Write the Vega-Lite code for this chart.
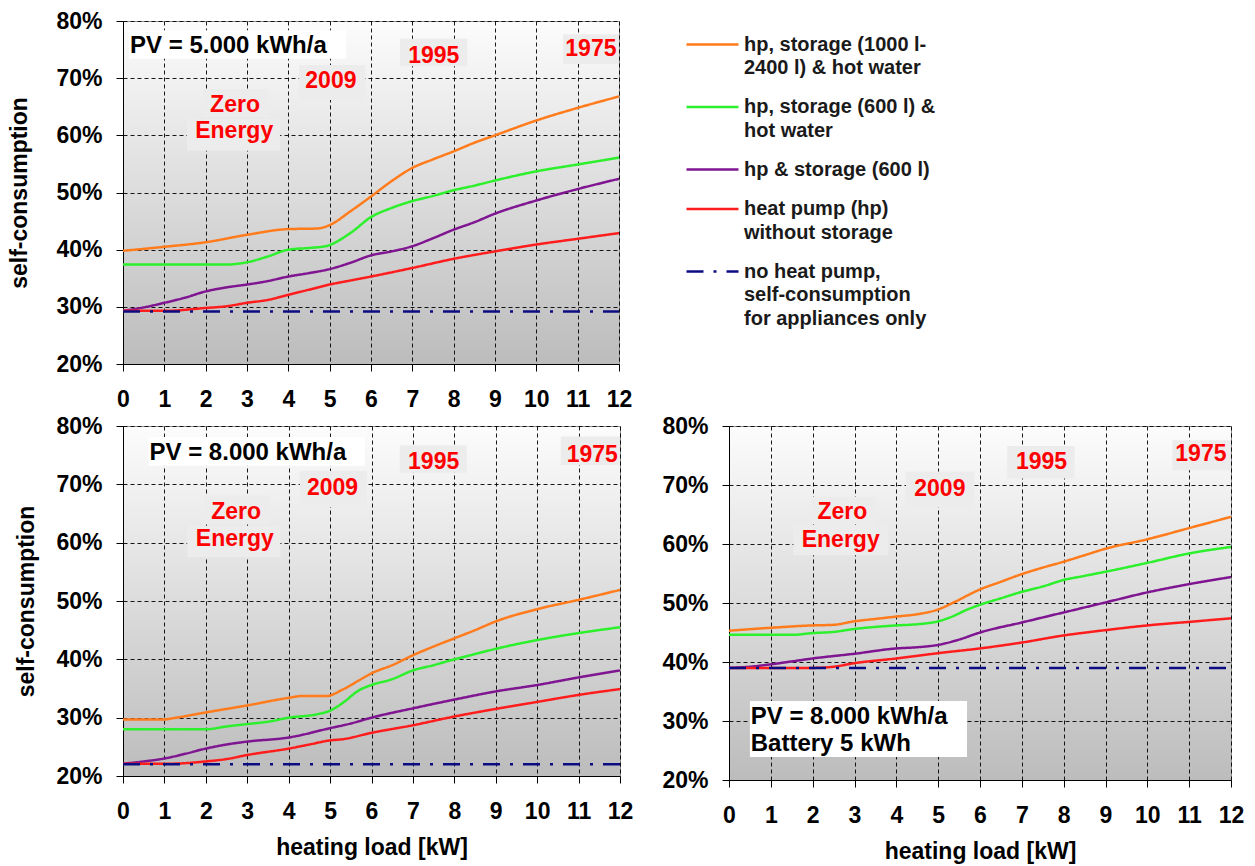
{
"$schema":"https://vega.github.io/schema/vega-lite/v6.json",
"padding":{"left":8,"top":9,"right":4,"bottom":4},
"config":{
 "font":"Liberation Sans",
 "view":{"fill":{"gradient":"linear","x1":0,"y1":0,"x2":0,"y2":1,"stops":[{"offset":0,"color":"#fcfcfc"},{"offset":1,"color":"#bcbcbc"}]},"stroke":"#8f8f8f","strokeWidth":1},
 "axis":{"labelFont":"Liberation Sans","labelFontSize":23,"labelFontWeight":"bold","labelColor":"#000000","titleFont":"Liberation Sans","titleFontSize":23,"titleFontWeight":"bold","titleColor":"#000000","domainColor":"#000000","domainWidth":1,"tickColor":"#000000","tickSize":7,"tickWidth":1,"gridColor":"#000000","gridDash":[4,3],"gridWidth":1,"gridOpacity":0.9,"labelOverlap":false},
 "axisX":{"labelPadding":17,"titlePadding":13,"labelFlush":false},
 "axisY":{"labelPadding":14,"titlePadding":22},
 "legend":{"labelFont":"Liberation Sans"}
},
"datasets":{
"curves":[
{"panel":"p1","series":"hp, storage (1000 l-2400 l) & hot water","x":0,"y":39.8},
{"panel":"p1","series":"hp, storage (1000 l-2400 l) & hot water","x":1,"y":40.5},
{"panel":"p1","series":"hp, storage (1000 l-2400 l) & hot water","x":2,"y":41.3},
{"panel":"p1","series":"hp, storage (1000 l-2400 l) & hot water","x":3,"y":42.6},
{"panel":"p1","series":"hp, storage (1000 l-2400 l) & hot water","x":4,"y":43.6},
{"panel":"p1","series":"hp, storage (1000 l-2400 l) & hot water","x":4.7,"y":43.7},
{"panel":"p1","series":"hp, storage (1000 l-2400 l) & hot water","x":5,"y":44.3},
{"panel":"p1","series":"hp, storage (1000 l-2400 l) & hot water","x":5.5,"y":46.7},
{"panel":"p1","series":"hp, storage (1000 l-2400 l) & hot water","x":6,"y":49.3},
{"panel":"p1","series":"hp, storage (1000 l-2400 l) & hot water","x":6.5,"y":52},
{"panel":"p1","series":"hp, storage (1000 l-2400 l) & hot water","x":7,"y":54.3},
{"panel":"p1","series":"hp, storage (1000 l-2400 l) & hot water","x":7.5,"y":55.8},
{"panel":"p1","series":"hp, storage (1000 l-2400 l) & hot water","x":8,"y":57.2},
{"panel":"p1","series":"hp, storage (1000 l-2400 l) & hot water","x":8.5,"y":58.7},
{"panel":"p1","series":"hp, storage (1000 l-2400 l) & hot water","x":9,"y":60},
{"panel":"p1","series":"hp, storage (1000 l-2400 l) & hot water","x":10,"y":62.6},
{"panel":"p1","series":"hp, storage (1000 l-2400 l) & hot water","x":11,"y":64.8},
{"panel":"p1","series":"hp, storage (1000 l-2400 l) & hot water","x":12,"y":66.8},
{"panel":"p1","series":"hp, storage (600 l) & hot water","x":0,"y":37.4},
{"panel":"p1","series":"hp, storage (600 l) & hot water","x":1,"y":37.4},
{"panel":"p1","series":"hp, storage (600 l) & hot water","x":2,"y":37.4},
{"panel":"p1","series":"hp, storage (600 l) & hot water","x":2.5,"y":37.4},
{"panel":"p1","series":"hp, storage (600 l) & hot water","x":3,"y":37.8},
{"panel":"p1","series":"hp, storage (600 l) & hot water","x":3.5,"y":38.8},
{"panel":"p1","series":"hp, storage (600 l) & hot water","x":4,"y":40},
{"panel":"p1","series":"hp, storage (600 l) & hot water","x":4.5,"y":40.3},
{"panel":"p1","series":"hp, storage (600 l) & hot water","x":4.9,"y":40.6},
{"panel":"p1","series":"hp, storage (600 l) & hot water","x":5.5,"y":42.9},
{"panel":"p1","series":"hp, storage (600 l) & hot water","x":6,"y":45.7},
{"panel":"p1","series":"hp, storage (600 l) & hot water","x":6.5,"y":47.3},
{"panel":"p1","series":"hp, storage (600 l) & hot water","x":7,"y":48.5},
{"panel":"p1","series":"hp, storage (600 l) & hot water","x":7.5,"y":49.4},
{"panel":"p1","series":"hp, storage (600 l) & hot water","x":8,"y":50.4},
{"panel":"p1","series":"hp, storage (600 l) & hot water","x":8.5,"y":51.2},
{"panel":"p1","series":"hp, storage (600 l) & hot water","x":9,"y":52.1},
{"panel":"p1","series":"hp, storage (600 l) & hot water","x":10,"y":53.7},
{"panel":"p1","series":"hp, storage (600 l) & hot water","x":11,"y":54.9},
{"panel":"p1","series":"hp, storage (600 l) & hot water","x":12,"y":56.1},
{"panel":"p1","series":"hp & storage (600 l)","x":0,"y":29.3},
{"panel":"p1","series":"hp & storage (600 l)","x":0.5,"y":29.9},
{"panel":"p1","series":"hp & storage (600 l)","x":1,"y":30.7},
{"panel":"p1","series":"hp & storage (600 l)","x":1.5,"y":31.6},
{"panel":"p1","series":"hp & storage (600 l)","x":2,"y":32.7},
{"panel":"p1","series":"hp & storage (600 l)","x":2.5,"y":33.4},
{"panel":"p1","series":"hp & storage (600 l)","x":3,"y":33.9},
{"panel":"p1","series":"hp & storage (600 l)","x":3.5,"y":34.5},
{"panel":"p1","series":"hp & storage (600 l)","x":4,"y":35.3},
{"panel":"p1","series":"hp & storage (600 l)","x":4.5,"y":35.9},
{"panel":"p1","series":"hp & storage (600 l)","x":5,"y":36.6},
{"panel":"p1","series":"hp & storage (600 l)","x":5.5,"y":37.7},
{"panel":"p1","series":"hp & storage (600 l)","x":6,"y":39},
{"panel":"p1","series":"hp & storage (600 l)","x":6.5,"y":39.7},
{"panel":"p1","series":"hp & storage (600 l)","x":7,"y":40.6},
{"panel":"p1","series":"hp & storage (600 l)","x":7.5,"y":42},
{"panel":"p1","series":"hp & storage (600 l)","x":8,"y":43.5},
{"panel":"p1","series":"hp & storage (600 l)","x":8.5,"y":44.8},
{"panel":"p1","series":"hp & storage (600 l)","x":9,"y":46.3},
{"panel":"p1","series":"hp & storage (600 l)","x":10,"y":48.6},
{"panel":"p1","series":"hp & storage (600 l)","x":11,"y":50.6},
{"panel":"p1","series":"hp & storage (600 l)","x":12,"y":52.4},
{"panel":"p1","series":"heat pump (hp) without storage","x":0,"y":29.3},
{"panel":"p1","series":"heat pump (hp) without storage","x":1,"y":29.3},
{"panel":"p1","series":"heat pump (hp) without storage","x":2,"y":29.8},
{"panel":"p1","series":"heat pump (hp) without storage","x":2.5,"y":30.1},
{"panel":"p1","series":"heat pump (hp) without storage","x":3,"y":30.7},
{"panel":"p1","series":"heat pump (hp) without storage","x":3.5,"y":31.2},
{"panel":"p1","series":"heat pump (hp) without storage","x":4,"y":32.1},
{"panel":"p1","series":"heat pump (hp) without storage","x":4.5,"y":33},
{"panel":"p1","series":"heat pump (hp) without storage","x":5,"y":33.9},
{"panel":"p1","series":"heat pump (hp) without storage","x":5.5,"y":34.6},
{"panel":"p1","series":"heat pump (hp) without storage","x":6,"y":35.3},
{"panel":"p1","series":"heat pump (hp) without storage","x":7,"y":36.8},
{"panel":"p1","series":"heat pump (hp) without storage","x":8,"y":38.4},
{"panel":"p1","series":"heat pump (hp) without storage","x":9,"y":39.7},
{"panel":"p1","series":"heat pump (hp) without storage","x":10,"y":40.9},
{"panel":"p1","series":"heat pump (hp) without storage","x":11,"y":41.9},
{"panel":"p1","series":"heat pump (hp) without storage","x":12,"y":42.9},
{"panel":"p1","series":"no heat pump, self-consumption for appliances only","x":0,"y":29.2},
{"panel":"p1","series":"no heat pump, self-consumption for appliances only","x":12,"y":29.2},
{"panel":"p2","series":"hp, storage (1000 l-2400 l) & hot water","x":0,"y":29.7},
{"panel":"p2","series":"hp, storage (1000 l-2400 l) & hot water","x":1,"y":29.7},
{"panel":"p2","series":"hp, storage (1000 l-2400 l) & hot water","x":1.2,"y":29.9},
{"panel":"p2","series":"hp, storage (1000 l-2400 l) & hot water","x":2,"y":30.9},
{"panel":"p2","series":"hp, storage (1000 l-2400 l) & hot water","x":3,"y":32.1},
{"panel":"p2","series":"hp, storage (1000 l-2400 l) & hot water","x":4,"y":33.4},
{"panel":"p2","series":"hp, storage (1000 l-2400 l) & hot water","x":4.3,"y":33.7},
{"panel":"p2","series":"hp, storage (1000 l-2400 l) & hot water","x":4.9,"y":33.7},
{"panel":"p2","series":"hp, storage (1000 l-2400 l) & hot water","x":5.3,"y":34.8},
{"panel":"p2","series":"hp, storage (1000 l-2400 l) & hot water","x":5.7,"y":36.4},
{"panel":"p2","series":"hp, storage (1000 l-2400 l) & hot water","x":6,"y":37.6},
{"panel":"p2","series":"hp, storage (1000 l-2400 l) & hot water","x":6.5,"y":39},
{"panel":"p2","series":"hp, storage (1000 l-2400 l) & hot water","x":7,"y":40.7},
{"panel":"p2","series":"hp, storage (1000 l-2400 l) & hot water","x":7.5,"y":42.2},
{"panel":"p2","series":"hp, storage (1000 l-2400 l) & hot water","x":8,"y":43.6},
{"panel":"p2","series":"hp, storage (1000 l-2400 l) & hot water","x":8.5,"y":45},
{"panel":"p2","series":"hp, storage (1000 l-2400 l) & hot water","x":9,"y":46.5},
{"panel":"p2","series":"hp, storage (1000 l-2400 l) & hot water","x":10,"y":48.6},
{"panel":"p2","series":"hp, storage (1000 l-2400 l) & hot water","x":11,"y":50.2},
{"panel":"p2","series":"hp, storage (1000 l-2400 l) & hot water","x":12,"y":51.9},
{"panel":"p2","series":"hp, storage (600 l) & hot water","x":0,"y":28},
{"panel":"p2","series":"hp, storage (600 l) & hot water","x":1,"y":28},
{"panel":"p2","series":"hp, storage (600 l) & hot water","x":2,"y":28},
{"panel":"p2","series":"hp, storage (600 l) & hot water","x":2.5,"y":28.5},
{"panel":"p2","series":"hp, storage (600 l) & hot water","x":3,"y":28.9},
{"panel":"p2","series":"hp, storage (600 l) & hot water","x":3.5,"y":29.3},
{"panel":"p2","series":"hp, storage (600 l) & hot water","x":4,"y":30},
{"panel":"p2","series":"hp, storage (600 l) & hot water","x":4.7,"y":30.6},
{"panel":"p2","series":"hp, storage (600 l) & hot water","x":5,"y":31.2},
{"panel":"p2","series":"hp, storage (600 l) & hot water","x":5.3,"y":32.5},
{"panel":"p2","series":"hp, storage (600 l) & hot water","x":5.7,"y":34.7},
{"panel":"p2","series":"hp, storage (600 l) & hot water","x":6,"y":35.6},
{"panel":"p2","series":"hp, storage (600 l) & hot water","x":6.5,"y":36.6},
{"panel":"p2","series":"hp, storage (600 l) & hot water","x":7,"y":38.1},
{"panel":"p2","series":"hp, storage (600 l) & hot water","x":7.5,"y":39},
{"panel":"p2","series":"hp, storage (600 l) & hot water","x":8,"y":40},
{"panel":"p2","series":"hp, storage (600 l) & hot water","x":8.5,"y":40.9},
{"panel":"p2","series":"hp, storage (600 l) & hot water","x":9,"y":41.8},
{"panel":"p2","series":"hp, storage (600 l) & hot water","x":10,"y":43.3},
{"panel":"p2","series":"hp, storage (600 l) & hot water","x":11,"y":44.5},
{"panel":"p2","series":"hp, storage (600 l) & hot water","x":12,"y":45.5},
{"panel":"p2","series":"hp & storage (600 l)","x":0,"y":22.1},
{"panel":"p2","series":"hp & storage (600 l)","x":0.5,"y":22.5},
{"panel":"p2","series":"hp & storage (600 l)","x":1,"y":23},
{"panel":"p2","series":"hp & storage (600 l)","x":1.5,"y":23.8},
{"panel":"p2","series":"hp & storage (600 l)","x":2,"y":24.7},
{"panel":"p2","series":"hp & storage (600 l)","x":2.5,"y":25.4},
{"panel":"p2","series":"hp & storage (600 l)","x":3,"y":25.9},
{"panel":"p2","series":"hp & storage (600 l)","x":4,"y":26.6},
{"panel":"p2","series":"hp & storage (600 l)","x":5,"y":28.2},
{"panel":"p2","series":"hp & storage (600 l)","x":5.5,"y":29},
{"panel":"p2","series":"hp & storage (600 l)","x":6,"y":30},
{"panel":"p2","series":"hp & storage (600 l)","x":7,"y":31.6},
{"panel":"p2","series":"hp & storage (600 l)","x":8,"y":33.1},
{"panel":"p2","series":"hp & storage (600 l)","x":9,"y":34.5},
{"panel":"p2","series":"hp & storage (600 l)","x":10,"y":35.6},
{"panel":"p2","series":"hp & storage (600 l)","x":11,"y":36.9},
{"panel":"p2","series":"hp & storage (600 l)","x":12,"y":38.1},
{"panel":"p2","series":"heat pump (hp) without storage","x":0,"y":22.1},
{"panel":"p2","series":"heat pump (hp) without storage","x":1,"y":22.1},
{"panel":"p2","series":"heat pump (hp) without storage","x":1.5,"y":22.2},
{"panel":"p2","series":"heat pump (hp) without storage","x":2,"y":22.5},
{"panel":"p2","series":"heat pump (hp) without storage","x":2.5,"y":22.9},
{"panel":"p2","series":"heat pump (hp) without storage","x":3,"y":23.6},
{"panel":"p2","series":"heat pump (hp) without storage","x":4,"y":24.7},
{"panel":"p2","series":"heat pump (hp) without storage","x":4.5,"y":25.4},
{"panel":"p2","series":"heat pump (hp) without storage","x":5,"y":26.1},
{"panel":"p2","series":"heat pump (hp) without storage","x":5.3,"y":26.3},
{"panel":"p2","series":"heat pump (hp) without storage","x":6,"y":27.4},
{"panel":"p2","series":"heat pump (hp) without storage","x":7,"y":28.7},
{"panel":"p2","series":"heat pump (hp) without storage","x":8,"y":30.2},
{"panel":"p2","series":"heat pump (hp) without storage","x":9,"y":31.5},
{"panel":"p2","series":"heat pump (hp) without storage","x":10,"y":32.7},
{"panel":"p2","series":"heat pump (hp) without storage","x":11,"y":33.9},
{"panel":"p2","series":"heat pump (hp) without storage","x":12,"y":34.9},
{"panel":"p2","series":"no heat pump, self-consumption for appliances only","x":0,"y":22},
{"panel":"p2","series":"no heat pump, self-consumption for appliances only","x":12,"y":22},
{"panel":"p3","series":"hp, storage (1000 l-2400 l) & hot water","x":0,"y":45.3},
{"panel":"p3","series":"hp, storage (1000 l-2400 l) & hot water","x":1,"y":45.8},
{"panel":"p3","series":"hp, storage (1000 l-2400 l) & hot water","x":2,"y":46.2},
{"panel":"p3","series":"hp, storage (1000 l-2400 l) & hot water","x":2.5,"y":46.3},
{"panel":"p3","series":"hp, storage (1000 l-2400 l) & hot water","x":3,"y":46.9},
{"panel":"p3","series":"hp, storage (1000 l-2400 l) & hot water","x":3.5,"y":47.3},
{"panel":"p3","series":"hp, storage (1000 l-2400 l) & hot water","x":4,"y":47.7},
{"panel":"p3","series":"hp, storage (1000 l-2400 l) & hot water","x":4.5,"y":48.1},
{"panel":"p3","series":"hp, storage (1000 l-2400 l) & hot water","x":5,"y":48.9},
{"panel":"p3","series":"hp, storage (1000 l-2400 l) & hot water","x":5.4,"y":50.2},
{"panel":"p3","series":"hp, storage (1000 l-2400 l) & hot water","x":6,"y":52.3},
{"panel":"p3","series":"hp, storage (1000 l-2400 l) & hot water","x":6.5,"y":53.6},
{"panel":"p3","series":"hp, storage (1000 l-2400 l) & hot water","x":7,"y":54.9},
{"panel":"p3","series":"hp, storage (1000 l-2400 l) & hot water","x":7.5,"y":56},
{"panel":"p3","series":"hp, storage (1000 l-2400 l) & hot water","x":8,"y":57},
{"panel":"p3","series":"hp, storage (1000 l-2400 l) & hot water","x":8.5,"y":58.1},
{"panel":"p3","series":"hp, storage (1000 l-2400 l) & hot water","x":9,"y":59.2},
{"panel":"p3","series":"hp, storage (1000 l-2400 l) & hot water","x":10,"y":60.8},
{"panel":"p3","series":"hp, storage (1000 l-2400 l) & hot water","x":11,"y":62.7},
{"panel":"p3","series":"hp, storage (1000 l-2400 l) & hot water","x":12,"y":64.6},
{"panel":"p3","series":"hp, storage (600 l) & hot water","x":0,"y":44.6},
{"panel":"p3","series":"hp, storage (600 l) & hot water","x":1.5,"y":44.6},
{"panel":"p3","series":"hp, storage (600 l) & hot water","x":2,"y":44.9},
{"panel":"p3","series":"hp, storage (600 l) & hot water","x":2.5,"y":45.1},
{"panel":"p3","series":"hp, storage (600 l) & hot water","x":3,"y":45.6},
{"panel":"p3","series":"hp, storage (600 l) & hot water","x":4,"y":46.2},
{"panel":"p3","series":"hp, storage (600 l) & hot water","x":4.5,"y":46.4},
{"panel":"p3","series":"hp, storage (600 l) & hot water","x":5,"y":46.9},
{"panel":"p3","series":"hp, storage (600 l) & hot water","x":5.3,"y":47.6},
{"panel":"p3","series":"hp, storage (600 l) & hot water","x":5.7,"y":48.9},
{"panel":"p3","series":"hp, storage (600 l) & hot water","x":6,"y":49.7},
{"panel":"p3","series":"hp, storage (600 l) & hot water","x":6.5,"y":50.8},
{"panel":"p3","series":"hp, storage (600 l) & hot water","x":7,"y":51.9},
{"panel":"p3","series":"hp, storage (600 l) & hot water","x":7.5,"y":52.8},
{"panel":"p3","series":"hp, storage (600 l) & hot water","x":8,"y":53.9},
{"panel":"p3","series":"hp, storage (600 l) & hot water","x":8.5,"y":54.6},
{"panel":"p3","series":"hp, storage (600 l) & hot water","x":9,"y":55.3},
{"panel":"p3","series":"hp, storage (600 l) & hot water","x":10,"y":56.8},
{"panel":"p3","series":"hp, storage (600 l) & hot water","x":11,"y":58.4},
{"panel":"p3","series":"hp, storage (600 l) & hot water","x":12,"y":59.5},
{"panel":"p3","series":"hp & storage (600 l)","x":0,"y":39},
{"panel":"p3","series":"hp & storage (600 l)","x":0.5,"y":39.2},
{"panel":"p3","series":"hp & storage (600 l)","x":1,"y":39.6},
{"panel":"p3","series":"hp & storage (600 l)","x":1.5,"y":40.1},
{"panel":"p3","series":"hp & storage (600 l)","x":2,"y":40.6},
{"panel":"p3","series":"hp & storage (600 l)","x":3,"y":41.4},
{"panel":"p3","series":"hp & storage (600 l)","x":4,"y":42.3},
{"panel":"p3","series":"hp & storage (600 l)","x":4.5,"y":42.5},
{"panel":"p3","series":"hp & storage (600 l)","x":5,"y":42.9},
{"panel":"p3","series":"hp & storage (600 l)","x":5.5,"y":43.8},
{"panel":"p3","series":"hp & storage (600 l)","x":6,"y":45},
{"panel":"p3","series":"hp & storage (600 l)","x":7,"y":46.7},
{"panel":"p3","series":"hp & storage (600 l)","x":8,"y":48.4},
{"panel":"p3","series":"hp & storage (600 l)","x":9,"y":50.1},
{"panel":"p3","series":"hp & storage (600 l)","x":10,"y":51.8},
{"panel":"p3","series":"hp & storage (600 l)","x":11,"y":53.2},
{"panel":"p3","series":"hp & storage (600 l)","x":12,"y":54.4},
{"panel":"p3","series":"heat pump (hp) without storage","x":0,"y":39},
{"panel":"p3","series":"heat pump (hp) without storage","x":2,"y":39},
{"panel":"p3","series":"heat pump (hp) without storage","x":2.5,"y":39.2},
{"panel":"p3","series":"heat pump (hp) without storage","x":3,"y":39.8},
{"panel":"p3","series":"heat pump (hp) without storage","x":4,"y":40.6},
{"panel":"p3","series":"heat pump (hp) without storage","x":5,"y":41.5},
{"panel":"p3","series":"heat pump (hp) without storage","x":6,"y":42.3},
{"panel":"p3","series":"heat pump (hp) without storage","x":7,"y":43.3},
{"panel":"p3","series":"heat pump (hp) without storage","x":8,"y":44.5},
{"panel":"p3","series":"heat pump (hp) without storage","x":9,"y":45.4},
{"panel":"p3","series":"heat pump (hp) without storage","x":10,"y":46.2},
{"panel":"p3","series":"heat pump (hp) without storage","x":11,"y":46.8},
{"panel":"p3","series":"heat pump (hp) without storage","x":12,"y":47.4},
{"panel":"p3","series":"no heat pump, self-consumption for appliances only","x":0,"y":39},
{"panel":"p3","series":"no heat pump, self-consumption for appliances only","x":12,"y":39}
],
"boxes":[
{"panel":"p1","kind":"white","x":0.15,"x2":5.4,"y":73.4,"y2":78.4},
{"panel":"p1","kind":"gray","x":6.7,"x2":8.33,"y":72.1,"y2":76.9},
{"panel":"p1","kind":"gray","x":10.65,"x2":12,"y":72.5,"y2":77.7},
{"panel":"p1","kind":"gray","x":4.26,"x2":5.86,"y":66.2,"y2":72.3},
{"panel":"p1","kind":"gray","x":1.94,"x2":3.51,"y":63.2,"y2":68.1},
{"panel":"p1","kind":"gray","x":1.55,"x2":3.8,"y":57.3,"y2":62.9},
{"panel":"p2","kind":"white","x":0.62,"x2":5.84,"y":73.2,"y2":78.1},
{"panel":"p2","kind":"gray","x":6.68,"x2":8.3,"y":72,"y2":76.7},
{"panel":"p2","kind":"gray","x":10.57,"x2":12,"y":73.3,"y2":78.2},
{"panel":"p2","kind":"gray","x":4.27,"x2":5.89,"y":66.1,"y2":72.3},
{"panel":"p2","kind":"gray","x":1.95,"x2":3.53,"y":63.2,"y2":68.1},
{"panel":"p2","kind":"gray","x":1.55,"x2":3.8,"y":57.5,"y2":62.9},
{"panel":"p3","kind":"white","x":0.5,"x2":5.69,"y":23.9,"y2":33.4},
{"panel":"p3","kind":"gray","x":6.65,"x2":8.26,"y":71.1,"y2":76.6},
{"panel":"p3","kind":"gray","x":10.6,"x2":12,"y":72.5,"y2":77.6},
{"panel":"p3","kind":"gray","x":4.23,"x2":5.86,"y":66.2,"y2":72.3},
{"panel":"p3","kind":"gray","x":1.96,"x2":3.5,"y":63.4,"y2":68},
{"panel":"p3","kind":"gray","x":1.54,"x2":3.81,"y":58.1,"y2":63.2}
],
"notes":[
{"panel":"p1","kind":"pv","x":0.17,"y":75.6,"text":"PV = 5.000 kWh/a"},
{"panel":"p1","kind":"year","x":7.52,"y":73.9,"text":"1995"},
{"panel":"p1","kind":"year","x":11.32,"y":75.1,"text":"1975"},
{"panel":"p1","kind":"year","x":5.03,"y":69.5,"text":"2009"},
{"panel":"p1","kind":"year","x":2.71,"y":65.3,"text":"Zero"},
{"panel":"p1","kind":"year","x":2.69,"y":60.8,"text":"Energy"},
{"panel":"p2","kind":"pv","x":0.64,"y":75.3,"text":"PV = 8.000 kWh/a"},
{"panel":"p2","kind":"year","x":7.5,"y":73.9,"text":"1995"},
{"panel":"p2","kind":"year","x":11.33,"y":75.1,"text":"1975"},
{"panel":"p2","kind":"year","x":5.06,"y":69.4,"text":"2009"},
{"panel":"p2","kind":"year","x":2.73,"y":65.3,"text":"Zero"},
{"panel":"p2","kind":"year","x":2.7,"y":60.7,"text":"Energy"},
{"panel":"p3","kind":"pv","x":0.52,"y":30.7,"text":"PV = 8.000 kWh/a"},
{"panel":"p3","kind":"pv","x":0.52,"y":26.1,"text":"Battery 5 kWh"},
{"panel":"p3","kind":"year","x":7.47,"y":73.95,"text":"1995"},
{"panel":"p3","kind":"year","x":11.28,"y":75.2,"text":"1975"},
{"panel":"p3","kind":"year","x":5.04,"y":69.4,"text":"2009"},
{"panel":"p3","kind":"year","x":2.71,"y":65.4,"text":"Zero"},
{"panel":"p3","kind":"year","x":2.67,"y":60.7,"text":"Energy"}
]
},
"spacing":2,
"vconcat":[
{
 "width":496,"height":343,
 "encoding":{
  "x":{"field":"x","type":"quantitative","scale":{"domain":[0,12],"nice":false,"zero":false},"axis":{"values":[0,1,2,3,4,5,6,7,8,9,10,11,12],"title":null}},
  "y":{"field":"y","type":"quantitative","scale":{"domain":[20,80],"nice":false,"zero":false},"axis":{"values":[20,30,40,50,60,70,80],"labelExpr":"datum.value + '%'","title":"self-consumption","titlePadding":24}}
 },
 "layer":[
  {"data":{"name":"boxes"},"transform":[{"filter":"datum.panel === 'p1' && datum.kind === 'white'"}],"mark":{"type":"rect","color":"#ffffff"},"encoding":{"x2":{"field":"x2"},"y2":{"field":"y2"}}},
  {"data":{"name":"boxes"},"transform":[{"filter":"datum.panel === 'p1' && datum.kind === 'gray'"}],"mark":{"type":"rect","color":"#ececec"},"encoding":{"x2":{"field":"x2"},"y2":{"field":"y2"}}},
  {"data":{"name":"curves"},"transform":[{"filter":"datum.panel === 'p1'"}],"mark":{"type":"line","strokeWidth":2.5,"interpolate":"monotone","clip":true},
   "encoding":{
    "color":{"field":"series","type":"nominal","scale":{"domain":["hp, storage (1000 l-2400 l) & hot water","hp, storage (600 l) & hot water","hp & storage (600 l)","heat pump (hp) without storage","no heat pump, self-consumption for appliances only"],"range":["#ff7b1c","#2cf02c","#7f1591","#ff1c1c","#0c0c82"]},
     "legend":{"orient":"none","legendX":562,"legendY":-4,"title":null,"symbolType":"stroke","symbolSize":2704,"symbolStrokeWidth":2.5,"labelFontSize":20,"labelFontWeight":"bold","labelColor":"#1a1a1a","labelLimit":400,"labelBaseline":"top","labelOffset":4,"rowPadding":1.5,
      "labelExpr":"datum.label === 'hp, storage (1000 l-2400 l) & hot water' ? ['hp, storage (1000 l-', '2400 l) & hot water'] : datum.label === 'hp, storage (600 l) & hot water' ? ['hp, storage (600 l) &', 'hot water'] : datum.label === 'heat pump (hp) without storage' ? ['heat pump (hp)', 'without storage'] : datum.label === 'no heat pump, self-consumption for appliances only' ? ['no heat pump,', 'self-consumption', 'for appliances only'] : datum.label",
      "encode":{"labels":{"update":{"dy":{"value":-10},"lineHeight":{"value":23.5}}}}}},
    "strokeDash":{"field":"series","type":"nominal","scale":{"domain":["hp, storage (1000 l-2400 l) & hot water","hp, storage (600 l) & hot water","hp & storage (600 l)","heat pump (hp) without storage","no heat pump, self-consumption for appliances only"],"range":[[1,0],[1,0],[1,0],[1,0],[17,10,3,10]]},
     "legend":{"orient":"none","legendX":562,"legendY":-4,"title":null,"symbolType":"stroke","symbolSize":2704,"symbolStrokeWidth":2.5,"labelFontSize":20,"labelFontWeight":"bold","labelColor":"#1a1a1a","labelLimit":400,"labelBaseline":"top","labelOffset":4,"rowPadding":1.5,
      "labelExpr":"datum.label === 'hp, storage (1000 l-2400 l) & hot water' ? ['hp, storage (1000 l-', '2400 l) & hot water'] : datum.label === 'hp, storage (600 l) & hot water' ? ['hp, storage (600 l) &', 'hot water'] : datum.label === 'heat pump (hp) without storage' ? ['heat pump (hp)', 'without storage'] : datum.label === 'no heat pump, self-consumption for appliances only' ? ['no heat pump,', 'self-consumption', 'for appliances only'] : datum.label",
      "encode":{"labels":{"update":{"dy":{"value":-10},"lineHeight":{"value":23.5}}}}}}
   }},
  {"data":{"name":"notes"},"transform":[{"filter":"datum.panel === 'p1' && datum.kind === 'year'"}],"mark":{"type":"text","color":"#ff0000","fontSize":23,"fontWeight":"bold","align":"center","baseline":"middle"},"encoding":{"text":{"field":"text"}}},
  {"data":{"name":"notes"},"transform":[{"filter":"datum.panel === 'p1' && datum.kind === 'pv'"}],"mark":{"type":"text","color":"#000000","fontSize":24,"fontWeight":"bold","align":"left","baseline":"middle"},"encoding":{"text":{"field":"text"}}}
 ]
},
{
 "spacing":27,
 "hconcat":[
  {
   "width":497,"height":350,
   "encoding":{
    "x":{"field":"x","type":"quantitative","scale":{"domain":[0,12],"nice":false,"zero":false},"axis":{"values":[0,1,2,3,4,5,6,7,8,9,10,11,12],"title":"heating load [kW]"}},
    "y":{"field":"y","type":"quantitative","scale":{"domain":[20,80],"nice":false,"zero":false},"axis":{"values":[20,30,40,50,60,70,80],"labelExpr":"datum.value + '%'","title":"self-consumption","titlePadding":17}}
   },
   "layer":[
    {"data":{"name":"boxes"},"transform":[{"filter":"datum.panel === 'p2' && datum.kind === 'white'"}],"mark":{"type":"rect","color":"#ffffff"},"encoding":{"x2":{"field":"x2"},"y2":{"field":"y2"}}},
    {"data":{"name":"boxes"},"transform":[{"filter":"datum.panel === 'p2' && datum.kind === 'gray'"}],"mark":{"type":"rect","color":"#ececec"},"encoding":{"x2":{"field":"x2"},"y2":{"field":"y2"}}},
    {"data":{"name":"curves"},"transform":[{"filter":"datum.panel === 'p2'"}],"mark":{"type":"line","strokeWidth":2.5,"interpolate":"monotone","clip":true},
     "encoding":{
      "color":{"field":"series","type":"nominal","scale":{"domain":["hp, storage (1000 l-2400 l) & hot water","hp, storage (600 l) & hot water","hp & storage (600 l)","heat pump (hp) without storage","no heat pump, self-consumption for appliances only"],"range":["#ff7b1c","#2cf02c","#7f1591","#ff1c1c","#0c0c82"]}},
      "strokeDash":{"field":"series","type":"nominal","scale":{"domain":["hp, storage (1000 l-2400 l) & hot water","hp, storage (600 l) & hot water","hp & storage (600 l)","heat pump (hp) without storage","no heat pump, self-consumption for appliances only"],"range":[[1,0],[1,0],[1,0],[1,0],[17,10,3,10]]}}
     }},
    {"data":{"name":"notes"},"transform":[{"filter":"datum.panel === 'p2' && datum.kind === 'year'"}],"mark":{"type":"text","color":"#ff0000","fontSize":23,"fontWeight":"bold","align":"center","baseline":"middle"},"encoding":{"text":{"field":"text"}}},
    {"data":{"name":"notes"},"transform":[{"filter":"datum.panel === 'p2' && datum.kind === 'pv'"}],"mark":{"type":"text","color":"#000000","fontSize":24,"fontWeight":"bold","align":"left","baseline":"middle"},"encoding":{"text":{"field":"text"}}}
   ]
  },
  {
   "width":502,"height":354,
   "encoding":{
    "x":{"field":"x","type":"quantitative","scale":{"domain":[0,12],"nice":false,"zero":false},"axis":{"values":[0,1,2,3,4,5,6,7,8,9,10,11,12],"title":"heating load [kW]"}},
    "y":{"field":"y","type":"quantitative","scale":{"domain":[20,80],"nice":false,"zero":false},"axis":{"values":[20,30,40,50,60,70,80],"labelExpr":"datum.value + '%'","title":null}}
   },
   "layer":[
    {"data":{"name":"boxes"},"transform":[{"filter":"datum.panel === 'p3' && datum.kind === 'white'"}],"mark":{"type":"rect","color":"#ffffff"},"encoding":{"x2":{"field":"x2"},"y2":{"field":"y2"}}},
    {"data":{"name":"boxes"},"transform":[{"filter":"datum.panel === 'p3' && datum.kind === 'gray'"}],"mark":{"type":"rect","color":"#ececec"},"encoding":{"x2":{"field":"x2"},"y2":{"field":"y2"}}},
    {"data":{"name":"curves"},"transform":[{"filter":"datum.panel === 'p3'"}],"mark":{"type":"line","strokeWidth":2.5,"interpolate":"monotone","clip":true},
     "encoding":{
      "color":{"field":"series","type":"nominal","scale":{"domain":["hp, storage (1000 l-2400 l) & hot water","hp, storage (600 l) & hot water","hp & storage (600 l)","heat pump (hp) without storage","no heat pump, self-consumption for appliances only"],"range":["#ff7b1c","#2cf02c","#7f1591","#ff1c1c","#0c0c82"]}},
      "strokeDash":{"field":"series","type":"nominal","scale":{"domain":["hp, storage (1000 l-2400 l) & hot water","hp, storage (600 l) & hot water","hp & storage (600 l)","heat pump (hp) without storage","no heat pump, self-consumption for appliances only"],"range":[[1,0],[1,0],[1,0],[1,0],[17,10,3,10]]}}
     }},
    {"data":{"name":"notes"},"transform":[{"filter":"datum.panel === 'p3' && datum.kind === 'year'"}],"mark":{"type":"text","color":"#ff0000","fontSize":23,"fontWeight":"bold","align":"center","baseline":"middle"},"encoding":{"text":{"field":"text"}}},
    {"data":{"name":"notes"},"transform":[{"filter":"datum.panel === 'p3' && datum.kind === 'pv'"}],"mark":{"type":"text","color":"#000000","fontSize":24,"fontWeight":"bold","align":"left","baseline":"middle"},"encoding":{"text":{"field":"text"}}}
   ]
  }
 ]
}
]
}
